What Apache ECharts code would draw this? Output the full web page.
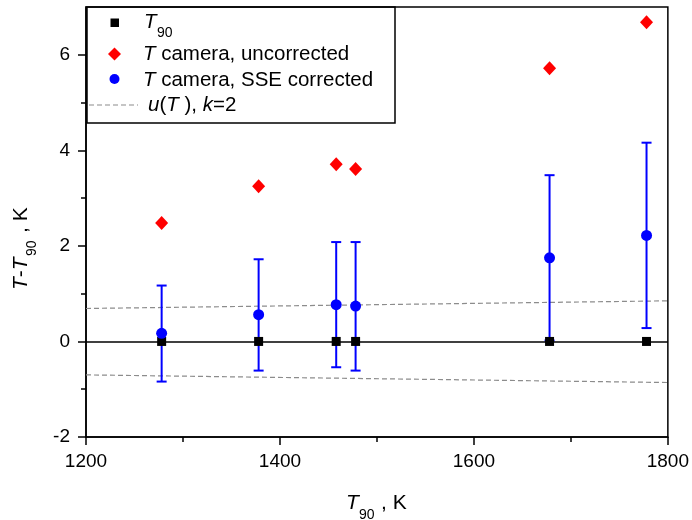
<!DOCTYPE html>
<html>
<head>
<meta charset="utf-8">
<script src="https://cdn.jsdelivr.net/npm/echarts@6/dist/echarts.min.js"></script>
<style>
  html, body { margin: 0; padding: 0; background: #fff; }
  #chart { width: 692px; height: 520px; }
</style>
</head>
<body>
<div id="chart"></div>
<script>
// Fixed-point temperatures T90, K
const t90 = [1278, 1378, 1458, 1478, 1678, 1778];
// Deviations T - T90, K
const devReference = [0, 0, 0, 0, 0, 0];
const devUncorrected = [2.48, 3.25, 3.71, 3.61, 5.72, 6.68];
const devCorrected = [0.17, 0.56, 0.77, 0.74, 1.75, 2.22];
// Error-bar bounds of the SSE-corrected values
const errLow = [-0.84, -0.61, -0.54, -0.61, 0.02, 0.28];
const errHigh = [1.17, 1.72, 2.08, 2.08, 3.48, 4.16];
// Expanded uncertainty band u(T), k=2
const bandT = [1200, 1800];
const bandUpper = [0.69, 0.85];
const bandLower = [-0.70, -0.86];
// Axis ticks
const xTicks = [1200, 1400, 1600, 1800];
const yTicks = [-2, 0, 2, 4, 6];
const yMinorTicks = [-1, 1, 3, 5];

const FONT = '"Liberation Sans", Arial, sans-serif';
const zip = (a, b) => a.map((v, i) => [v, b[i]]);

const chart = echarts.init(document.getElementById('chart'), null, { renderer: 'canvas' });

const axisLineStyle = { color: '#000', width: 1.5 };

const option = {
  animation: false,
  backgroundColor: '#fff',
  grid: {
    left: 86, right: 24, top: 7, bottom: 83,
    show: true, borderColor: '#000', borderWidth: 1.5, backgroundColor: 'transparent'
  },
  xAxis: {
    type: 'value',
    min: xTicks[0], max: xTicks[xTicks.length - 1], interval: 200,
    axisLine: { show: true, onZero: false, lineStyle: axisLineStyle },
    axisTick: { show: true, length: 8, lineStyle: axisLineStyle },
    minorTick: { show: true, splitNumber: 2, length: 5, lineStyle: axisLineStyle },
    splitLine: { show: false },
    axisLabel: { color: '#000', fontFamily: FONT, fontSize: 19, margin: 15,
      formatter: v => String(v) }
  },
  yAxis: [{
    type: 'value',
    min: -2, max: 7,
    axisLine: { show: true, onZero: false, lineStyle: axisLineStyle },
    axisTick: { show: true, length: 8, lineStyle: axisLineStyle, customValues: yTicks },
    splitLine: { show: false },
    axisLabel: { color: '#000', fontFamily: FONT, fontSize: 19, margin: 16, customValues: yTicks,
      formatter: v => String(v) }
  }, {
    type: 'value',
    min: -2, max: 7, position: 'left',
    axisLine: { show: false, onZero: false },
    axisTick: { show: true, length: 5, lineStyle: axisLineStyle, customValues: yMinorTicks },
    splitLine: { show: false },
    axisLabel: { show: false }
  }],
  series: [
    {
      name: 'u(T), k=2 upper',
      type: 'line',
      data: zip(bandT, bandUpper),
      symbol: 'none',
      lineStyle: { color: '#8c8c8c', width: 1.2, type: [5, 3] },
      z: 1, silent: true
    },
    {
      name: 'u(T), k=2 lower',
      type: 'line',
      data: zip(bandT, bandLower),
      symbol: 'none',
      lineStyle: { color: '#8c8c8c', width: 1.2, type: [5, 3] },
      z: 1, silent: true
    },
    {
      name: 'error bars',
      type: 'custom',
      data: t90.map((t, i) => [t, errLow[i], errHigh[i]]),
      encode: { x: 0, y: [1, 2] },
      z: 2,
      renderItem: function (params, api) {
        const x = api.value(0);
        const top = api.coord([x, api.value(2)]);
        const bottom = api.coord([x, api.value(1)]);
        const half = 5;
        const style = { stroke: '#0000ff', lineWidth: 2 };
        return {
          type: 'group',
          children: [
            { type: 'line', shape: { x1: top[0], y1: top[1], x2: bottom[0], y2: bottom[1] }, style },
            { type: 'line', shape: { x1: top[0] - half, y1: top[1], x2: top[0] + half, y2: top[1] }, style },
            { type: 'line', shape: { x1: bottom[0] - half, y1: bottom[1], x2: bottom[0] + half, y2: bottom[1] }, style }
          ]
        };
      }
    },
    {
      name: 'T90',
      type: 'scatter',
      data: zip(t90, devReference),
      symbol: 'rect',
      symbolSize: 9,
      itemStyle: { color: '#000', opacity: 1 },
      z: 3,
      markLine: {
        silent: true,
        symbol: 'none',
        label: { show: false },
        lineStyle: { color: '#000', width: 1.5, type: 'solid' },
        data: [{ yAxis: 0 }]
      }
    },
    {
      name: 'T camera, SSE corrected',
      type: 'scatter',
      data: zip(t90, devCorrected),
      symbol: 'circle',
      symbolSize: 11,
      itemStyle: { color: '#0000ff', opacity: 1 },
      z: 4
    },
    {
      name: 'T camera, uncorrected',
      type: 'scatter',
      data: zip(t90, devUncorrected),
      symbol: 'diamond',
      symbolSize: [13, 14],
      itemStyle: { color: '#ff0000', opacity: 1 },
      z: 5
    }
  ],
  graphic: [
    // legend frame
    { type: 'rect', z: 100, shape: { x: 87, y: 7, width: 308, height: 116 },
      style: { fill: 'transparent', stroke: '#000', lineWidth: 1.5 } },
    // legend keys
    { type: 'rect', z: 101, shape: { x: 110.5, y: 18.5, width: 8.5, height: 8.5 }, style: { fill: '#000' } },
    { type: 'polygon', z: 101, shape: { points: [[114.5, 47.5], [121, 54], [114.5, 60.5], [108, 54]] }, style: { fill: '#ff0000' } },
    { type: 'circle', z: 101, shape: { cx: 114.5, cy: 79, r: 5 }, style: { fill: '#0000ff' } },
    { type: 'line', z: 101, shape: { x1: 89, y1: 105, x2: 138, y2: 105 }, style: { stroke: '#8c8c8c', lineWidth: 1.2, lineDash: [5, 3] } },
    // legend labels
    { type: 'text', z: 101, x: 144, y: 22, style: { text: 'T', font: 'italic 20.5px ' + FONT, fill: '#000', verticalAlign: 'middle' } },
    { type: 'text', z: 101, x: 157, y: 33, style: { text: '90', font: '14px ' + FONT, fill: '#000', verticalAlign: 'middle' } },
    { type: 'text', z: 101, x: 143, y: 54.5, style: {
        text: '{i|T}{n| camera, uncorrected}', verticalAlign: 'middle', fill: '#000',
        rich: { i: { font: 'italic 20.5px ' + FONT, fill: '#000' }, n: { font: '20.5px ' + FONT, fill: '#000' } } } },
    { type: 'text', z: 101, x: 143, y: 80, style: {
        text: '{i|T}{n| camera, SSE corrected}', verticalAlign: 'middle', fill: '#000',
        rich: { i: { font: 'italic 20.5px ' + FONT, fill: '#000' }, n: { font: '20.5px ' + FONT, fill: '#000' } } } },
    { type: 'text', z: 101, x: 148, y: 105, style: {
        text: '{i|u}{n|(}{i|T }{n|), }{i|k}{n|=2}', verticalAlign: 'middle', fill: '#000',
        rich: { i: { font: 'italic 20.5px ' + FONT, fill: '#000' }, n: { font: '20.5px ' + FONT, fill: '#000' } } } },
    // x-axis title: T90 , K
    { type: 'group', children: [
      { type: 'text', x: 346, y: 503, style: { text: 'T', font: 'italic 21px ' + FONT, fill: '#000', verticalAlign: 'middle' } },
      { type: 'text', x: 359, y: 515, style: { text: '90', font: '14px ' + FONT, fill: '#000', verticalAlign: 'middle' } },
      { type: 'text', x: 381, y: 503, style: { text: ', K', font: '21px ' + FONT, fill: '#000', verticalAlign: 'middle' } }
    ] },
    // y-axis title: T-T90 , K (rotated)
    { type: 'group', x: 21, y: 290, rotation: Math.PI / 2, children: [
      { type: 'text', x: 0, y: 0, style: { text: '{i|T}{n|-}{i|T}', verticalAlign: 'middle', fill: '#000',
        rich: { i: { font: 'italic 21px ' + FONT, fill: '#000' }, n: { font: '21px ' + FONT, fill: '#000' } } } },
      { type: 'text', x: 34, y: 11, style: { text: '90', font: '14px ' + FONT, fill: '#000', verticalAlign: 'middle' } },
      { type: 'text', x: 57, y: 0, style: { text: ', K', font: '21px ' + FONT, fill: '#000', verticalAlign: 'middle' } }
    ] }
  ]
};

chart.setOption(option);
</script>
</body>
</html>
